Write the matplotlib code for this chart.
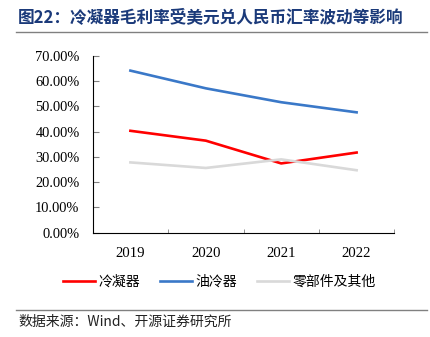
import matplotlib.pyplot as plt

# 数据
years = ['2019', '2020', '2021', '2022']
condenser = [40.3, 36.4, 27.4, 31.7]
oil_cooler = [64.1, 57.1, 51.6, 47.6]
parts_other = [27.8, 25.6, 29.0, 24.7]
y_ticks = [0, 10, 20, 30, 40, 50, 60, 70]

cjk = ['Noto Sans CJK SC', 'DejaVu Sans']
serif = 'Liberation Serif'

fig = plt.figure(figsize=(4.3, 3.37), dpi=100)
ax = fig.add_axes([0.2156, 0.3095, 0.917 - 0.2156, 0.8347 - 0.3095])

x = list(range(len(years)))
ax.plot(x, condenser, color='#FF0000', linewidth=1.9, label='冷凝器')
ax.plot(x, oil_cooler, color='#3A78C8', linewidth=1.9, label='油冷器')
ax.plot(x, parts_other, color='#D9D9D9', linewidth=1.9, label='零部件及其他')

ax.set_xlim(-0.5, len(years) - 0.5)
ax.set_ylim(0, 70)
ax.set_yticks(y_ticks)
ax.set_yticklabels([f'{v:.2f}%' for v in y_ticks], fontfamily=serif, fontsize=10.4)
ax.set_xticks(x)
ax.set_xticklabels(years, fontfamily=serif, fontsize=10.6)
# 类别之间的刻度线
ax.set_xticks([i + 0.5 for i in x], minor=True)
ax.tick_params(axis='x', which='major', length=0, pad=10)
ax.tick_params(axis='x', which='minor', direction='in', length=3, color='#808080')
ax.tick_params(axis='y', direction='in', length=4, color='#808080', pad=9.5)

for side in ['top', 'right']:
    ax.spines[side].set_visible(False)
ax.spines['left'].set_linewidth(0.8)
ax.spines['bottom'].set_linewidth(0.8)

leg = fig.legend(loc='center', bbox_to_anchor=(0.51, 1 - 281.7 / 337), ncol=3,
                 frameon=False, prop={'family': cjk, 'size': 10},
                 handlelength=2.3, handletextpad=0.25, columnspacing=1.45)

# 标题
fig.text(18 / 430, 1 - 17 / 337, '图22：冷凝器毛利率受美元兑人民币汇率波动等影响',
         fontfamily=cjk, fontsize=12, fontweight='bold', color='#1B3A7A',
         ha='left', va='center')
fig.add_artist(plt.Line2D([16 / 430, 427 / 430], [1 - 32 / 337, 1 - 32 / 337],
                          color='#808080', linewidth=1))

# 数据来源
fig.add_artist(plt.Line2D([16 / 430, 427 / 430], [1 - 309.5 / 337, 1 - 309.5 / 337],
                          color='#808080', linewidth=1))
fig.text(18 / 430, 1 - 322 / 337, '数据来源：Wind、开源证券研究所',
         fontfamily=cjk, fontsize=10, color='#222222', ha='left', va='center')

plt.savefig('out.png', dpi=100)
plt.close()
